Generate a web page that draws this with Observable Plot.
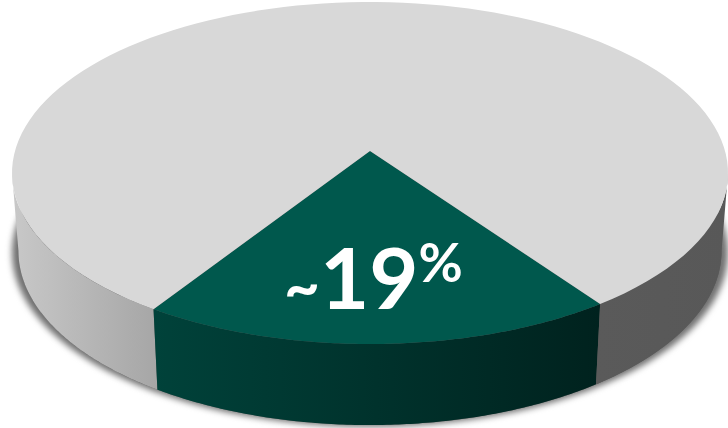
<!DOCTYPE html>
<html>
<head>
<meta charset="utf-8">
<script src="https://cdn.jsdelivr.net/npm/d3@7"></script>
<script src="https://cdn.jsdelivr.net/npm/@observablehq/plot@0.6"></script>
<style>
  html, body { margin: 0; padding: 0; background: #fff; overflow: hidden; }
  svg { display: block; }
</style>
</head>
<body>
<div id="chart"></div>
<script>
// Slices of the pie, front slice first.
const categories = ["Highlighted", "Remainder"];
const shares = [19, 81];
const labelPrefix = "~";
const labelSuffix = "%";

// Surface colours.
const topColors = ["#00584d", "#d8d8d8"];
const wallGradients = {
  wallLeft: ["#c8c8c8", "#a6a6a6"],
  wallFront: ["#00423a", "#00221e"],
  wallRight: ["#5a5a5a", "#585858"]
};

// Tilted-disc model: the top face is the unit circle of the x/y scales, with
// the disc's centre pushed back by `tilt`; the bottom rim is that circle moved
// down and squeezed slightly.
const tilt = -0.129;
const spin = 0.022;
const bottom = {sx: 0.982, sy: 1.018, dy: 0.456};
const shadow = {sx: 1.0, sy: 1.018, dy: 0.466};

function rim(theta) {
  const v = Math.cos(theta), u = Math.sin(theta), d = 1 + tilt * v;
  return {x: u * Math.sqrt(1 - tilt * tilt) / d, y: (v + tilt) / d};
}
const shifted = (p, m) => ({x: p.x * m.sx, y: p.y * m.sy + m.dy});
const samples = (a0, a1) => d3.range(0, 121).map((i) => rim(a0 + (a1 - a0) * i / 120));

const total = d3.sum(shares);
const arcs = d3.pie().sort(null)
  .startAngle(spin - Math.PI * shares[0] / total)
  .endAngle(spin - Math.PI * shares[0] / total + 2 * Math.PI)(shares);

const horizon = Math.acos(-tilt);       // where the rim turns away from view
const apex = {x: 0, y: tilt};

const wedge = (arc) => samples(arc.startAngle, arc.endAngle);
const wall = (a0, a1) => samples(a0, a1).map((p) => {
  const q = shifted(p, bottom);
  return {x1: p.x, y1: p.y, x2: q.x, y2: q.y};
});

const circle = samples(0, 2 * Math.PI);
const bodyOutline = circle.map((p) => shifted(p, bottom));
const shadowOutline = circle.map((p) => shifted(p, shadow));

function gradients() {
  const g = d3.create("svg:defs");
  for (const [id, stops] of Object.entries(wallGradients)) {
    const lg = g.append("linearGradient").attr("id", id);
    stops.forEach((c, i) => lg.append("stop")
      .attr("offset", i / (stops.length - 1)).attr("stop-color", c));
  }
  return g.node();
}

// One text element carrying the label, with its three parts sized separately.
function labelParts(index, scales, values, dims, ctx, next) {
  const g = next(index, scales, values, dims, ctx);
  const text = d3.select(g).select("text");
  text.attr("y", null).text(null);
  text.append("tspan").attr("font-size", 62).attr("font-weight", 700).text(labelPrefix);
  text.append("tspan").attr("font-size", 85).attr("font-weight", 700).text(shares[0]);
  text.append("tspan").attr("font-size", 54).attr("font-weight", 700).attr("dy", -27).text(labelSuffix);
  return g;
}

const chart = Plot.plot({
  width: 728,
  height: 428,
  margin: 0,
  x: {domain: [-1, 1], range: [12, 728], axis: null},
  y: {domain: [-1, 1], range: [2, 344], axis: null},
  marks: [
    gradients,
    // Soft shadow cast on the page, slightly wider than the disc.
    Plot.area(shadowOutline, {
      x1: "x", y1: "y", x2: 0, y2: shadow.dy,
      fill: "#707070",
      imageFilter: "blur(3px)"
    }),
    // Body of the disc.
    Plot.area(bodyOutline, {
      x1: "x", y1: "y", x2: 0, y2: bottom.dy,
      fill: wallGradients.wallRight[0]
    }),
    // Outer walls of the visible front half.
    Plot.area(wall(-horizon, arcs[0].startAngle), {x1: "x1", y1: "y1", x2: "x2", y2: "y2", fill: "url(#wallLeft)"}),
    Plot.area(wall(arcs[0].startAngle, arcs[0].endAngle), {x1: "x1", y1: "y1", x2: "x2", y2: "y2", fill: "url(#wallFront)"}),
    Plot.area(wall(arcs[0].endAngle, horizon), {x1: "x1", y1: "y1", x2: "x2", y2: "y2", fill: "url(#wallRight)"}),
    // Top face, one wedge per slice.
    ...arcs.map((arc, i) => Plot.area(wedge(arc), {
      x1: "x", y1: "y", x2: apex.x, y2: apex.y, fill: topColors[i], title: () => categories[i]
    })),
    Plot.text([`${labelPrefix}${shares[0]}${labelSuffix}`], {
      x: 0.008,
      y: 0.79,
      text: (d) => d,
      fill: "white",
      fontFamily: "Lato",
      textAnchor: "middle",
      render: labelParts
    })
  ]
});
document.getElementById("chart").append(chart);
</script>
</body>
</html>
